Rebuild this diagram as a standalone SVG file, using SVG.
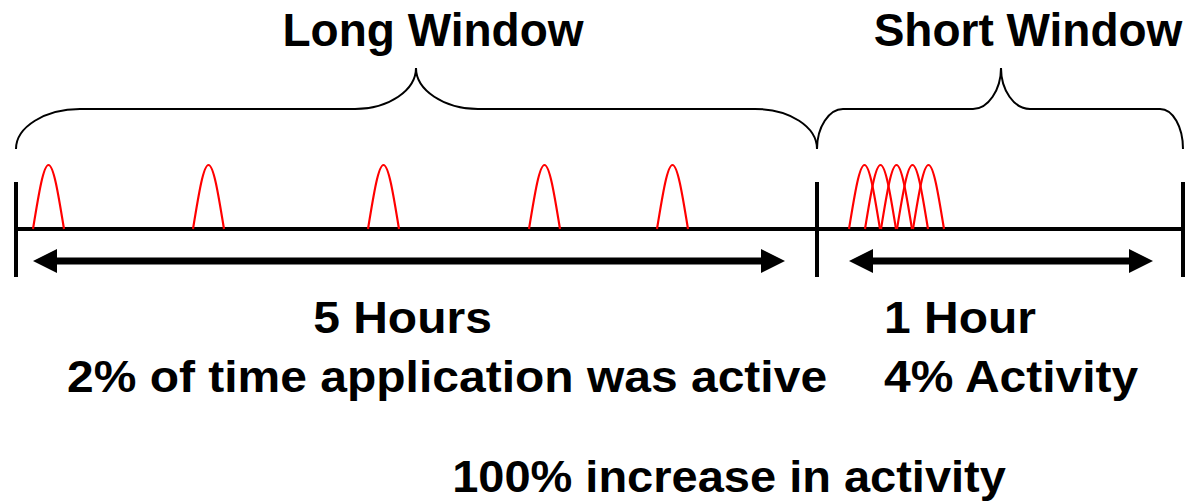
<svg xmlns="http://www.w3.org/2000/svg" xmlns:xlink="http://www.w3.org/1999/xlink" width="1191" height="502" viewBox="0 0 1191 502">
  <style>
    .t { font-family: "Liberation Sans", Arial, sans-serif; font-weight: bold; fill: #000; }
    .title { font-size: 46px; text-anchor: middle; }
    .lbl { font-size: 48px; }
    .brace { fill: none; stroke: #000; stroke-width: 2; }
    .axis { fill: none; stroke: #000; stroke-width: 4; }
    .hump { fill: none; stroke: #ff0000; stroke-width: 2.2; }
    .arrow { fill: none; stroke: #000; stroke-width: 7; }
  </style>
  <defs>
    <path id="hump" class="hump" d="M0,229 C6,192 10.5,165 15.5,165 C20.5,165 25,192 31,229"/>
    <marker id="ah" viewBox="0 0 24 24" refX="1" refY="12" markerWidth="24" markerHeight="24" markerUnits="userSpaceOnUse" orient="auto-start-reverse">
      <path d="M0,0 L24,12 L0,24 Z" fill="#000"/>
    </marker>
  </defs>
  <rect width="1191" height="502" fill="#fff"/>

  <g id="long-window">
    <text class="t title" x="433" y="46">Long Window</text>
    <path class="brace" d="M16,149 C16,127 45,109 80,109 L355,109 C389,109 416,90 416,68 C416,90 444,109 478,109 L755,109 C790,109 817,127 817,149"/>
  </g>

  <g id="short-window">
    <text class="t title" x="1028" y="46">Short Window</text>
    <path class="brace" d="M817,149 C817,127 829,109 843,109 L973,109 C988,109 1001,90 1001,68 C1001,90 1014,109 1030,109 L1160,109 C1173,109 1183,127 1183,149"/>
  </g>

  <g id="timeline">
    <line class="axis" x1="16" y1="229" x2="1183" y2="229"/>
    <line class="axis" x1="16" y1="182" x2="16" y2="277"/>
    <line class="axis" x1="817" y1="182" x2="817" y2="277"/>
    <line class="axis" x1="1183" y1="182" x2="1183" y2="277"/>
  </g>

  <g id="activity-long">
    <use xlink:href="#hump" x="33"/>
    <use xlink:href="#hump" x="193"/>
    <use xlink:href="#hump" x="368"/>
    <use xlink:href="#hump" x="529"/>
    <use xlink:href="#hump" x="657"/>
  </g>

  <g id="activity-short">
    <use xlink:href="#hump" x="849"/>
    <use xlink:href="#hump" x="865"/>
    <use xlink:href="#hump" x="881"/>
    <use xlink:href="#hump" x="897"/>
    <use xlink:href="#hump" x="913"/>
  </g>

  <g id="connectors">
    <line class="arrow" x1="56" y1="261" x2="762" y2="261" marker-start="url(#ah)" marker-end="url(#ah)"/>
    <line class="arrow" x1="872" y1="261" x2="1130" y2="261" marker-start="url(#ah)" marker-end="url(#ah)"/>
  </g>

  <g id="long-labels">
    <text class="t lbl" text-anchor="middle" transform="translate(402.5,333) scale(1,0.93)">5 Hours</text>
    <text class="t lbl" text-anchor="middle" transform="translate(447,392) scale(1,0.93)">2% of time application was active</text>
  </g>

  <g id="short-labels">
    <text class="t lbl" transform="translate(884,333) scale(1,0.93)">1 Hour</text>
    <text class="t lbl" transform="translate(884,392) scale(1,0.93)">4% Activity</text>
  </g>

  <g id="summary">
    <text class="t lbl" text-anchor="middle" style="font-size:47px" transform="translate(729,492) scale(1,0.95)">100% increase in activity</text>
  </g>
</svg>
